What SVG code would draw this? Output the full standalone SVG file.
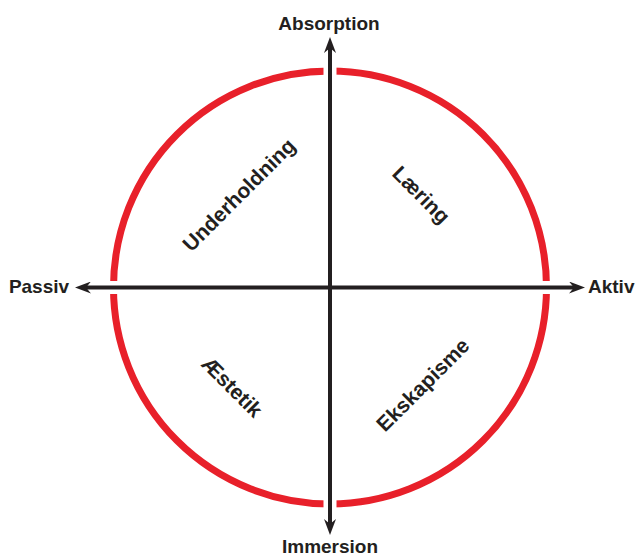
<svg xmlns="http://www.w3.org/2000/svg" width="635" height="554" viewBox="0 0 635 554">
<style>
.lbl{font-family:"Liberation Sans",Arial,sans-serif;font-weight:bold;font-size:19px;fill:#231f20;text-anchor:middle}
.q{font-size:21px}
.axis{stroke:#231f20;stroke-width:4;fill:none}
.gap{fill:#ffffff}
</style>
<defs>
<marker id="arr" markerUnits="userSpaceOnUse" viewBox="0 0 16 12" refX="6" refY="6" markerWidth="16" markerHeight="12" orient="auto-start-reverse">
<path d="M0,0 L16,6 L0,12 L5,6 z" fill="#231f20"/>
</marker>
</defs>
<g id="circle">
<circle cx="330" cy="287.5" r="216.5" fill="none" stroke="#e8202a" stroke-width="7"/>
<rect class="gap" x="323.5" y="60" width="13" height="24"/>
<rect class="gap" x="323.5" y="491" width="13" height="24"/>
<rect class="gap" x="100" y="281" width="24" height="13"/>
<rect class="gap" x="536" y="281" width="24" height="13"/>
</g>
<g id="connectors">
<line class="axis" x1="85" y1="287.5" x2="575" y2="287.5" marker-start="url(#arr)" marker-end="url(#arr)"/>
<line class="axis" x1="330" y1="47" x2="330" y2="525" marker-start="url(#arr)" marker-end="url(#arr)"/>
</g>
<g id="absorption"><text class="lbl" x="329" y="30">Absorption</text></g>
<g id="immersion"><text class="lbl" x="330" y="553">Immersion</text></g>
<g id="passiv"><text class="lbl" x="39" y="293">Passiv</text></g>
<g id="aktiv"><text class="lbl" x="588" y="293" style="text-anchor:start">Aktiv</text></g>
<g id="underholdning"><text class="lbl q" transform="translate(239,195) rotate(-45)" y="7">Underholdning</text></g>
<g id="laering"><text class="lbl q" transform="translate(421,195) rotate(45)" y="7">Læring</text></g>
<g id="aestetik"><text class="lbl q" transform="translate(232,387) rotate(45)" y="7">Æstetik</text></g>
<g id="ekskapisme"><text class="lbl q" transform="translate(423,385) rotate(-45)" y="7">Ekskapisme</text></g>
</svg>
